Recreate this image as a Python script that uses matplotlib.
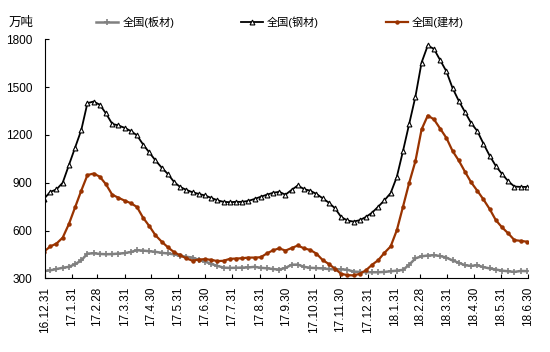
import pandas as pd
import matplotlib
matplotlib.use("Agg")
import matplotlib.pyplot as plt

plt.rcParams['font.family'] = ['Liberation Sans', 'Noto Sans CJK SC', 'DejaVu Sans']

# weekly observations, first one on 2016-12-30
start_date = '2016-12-30'
n_weeks = 79

plate = [345, 350, 358, 366, 372, 388, 412, 455, 457, 453,
         451, 452, 455, 458, 465, 476, 474, 470, 466, 460,
         456, 450, 441, 435, 430, 416, 405, 390, 378, 367,
         365, 366, 367, 368, 372, 366, 363, 358, 355, 365,
         385, 386, 372, 366, 364, 362, 358, 356, 356, 354,
         342, 340, 338, 338, 338, 340, 344, 348, 353, 385,
         425, 438, 443, 445, 440, 430, 412, 398, 382, 378,
         382, 370, 362, 355, 348, 344, 340, 346, 345]

steel = [800, 843, 858, 900, 1010, 1120, 1230, 1400, 1410, 1390,
         1335, 1270, 1260, 1245, 1225, 1198, 1140, 1090, 1040, 995,
         955, 905, 873, 855, 840, 830, 820, 805, 790, 780,
         778, 780, 780, 786, 798, 812, 825, 837, 843, 825,
         855, 883, 860, 850, 830, 803, 775, 740, 685, 663,
         656, 665, 685, 712, 750, 790, 835, 937, 1100, 1270,
         1440, 1655, 1762, 1740, 1670, 1600, 1495, 1415, 1345, 1275,
         1225, 1145, 1070, 1005, 955, 910, 876, 874, 874]

building = [468, 500, 518, 555, 640, 745, 850, 948, 958, 938,
            890, 825, 806, 788, 772, 748, 680, 628, 570, 530,
            495, 464, 444, 425, 410, 418, 420, 416, 408, 410,
            422, 424, 426, 430, 430, 432, 456, 476, 488, 474,
            490, 506, 488, 478, 455, 415, 390, 360, 328, 320,
            318, 328, 350, 385, 414, 460, 500, 602, 750, 900,
            1035, 1235, 1322, 1298, 1240, 1182, 1100, 1040, 970, 903,
            850, 795, 735, 665, 620, 582, 540, 535, 530]

tick_dates = ['2016-12-31', '2017-01-31', '2017-02-28', '2017-03-31', '2017-04-30',
              '2017-05-31', '2017-06-30', '2017-07-31', '2017-08-31', '2017-09-30',
              '2017-10-31', '2017-11-30', '2017-12-31', '2018-01-31', '2018-02-28',
              '2018-03-31', '2018-04-30', '2018-05-31', '2018-06-30']
tick_labels = ['16.12.31', '17.1.31', '17.2.28', '17.3.31', '17.4.30',
               '17.5.31', '17.6.30', '17.7.31', '17.8.31', '17.9.30',
               '17.10.31', '17.11.30', '17.12.31', '18.1.31', '18.2.28',
               '18.3.31', '18.4.30', '18.5.31', '18.6.30']

dates = pd.date_range(start_date, periods=n_weeks, freq='7D')

fig = plt.figure(figsize=(5.5, 3.52), dpi=100)
ax = fig.add_axes([0.0818, 0.2094, 0.8776, 0.6786])

ax.plot(dates, plate, color='#808080', lw=1.8, marker='+', ms=4, mew=1.2,
        label='全国(板材)')
ax.plot(dates, steel, color='black', lw=1.3, marker='^', ms=3.5, mew=0.8,
        mfc='white', label='全国(钢材)')
ax.plot(dates, building, color='#993300', lw=1.6, marker='o', ms=2.2,
        label='全国(建材)')

ax.set_xlim(pd.Timestamp('2016-12-31'), pd.Timestamp('2018-06-30'))
ax.set_ylim(300, 1800)
ax.set_yticks(range(300, 1801, 300))
ax.set_xticks(pd.to_datetime(tick_dates))
ax.set_xticklabels(tick_labels, rotation=90)
ax.tick_params(direction='in', labelsize=8.5, length=3)
ax.tick_params(axis='x', pad=6)
ax.tick_params(axis='y', pad=9)
ax.spines['top'].set_visible(False)
ax.spines['right'].set_visible(False)

fig.text(0.038, 0.935, '万吨', fontsize=9, ha='center', va='center')
fig.legend(loc='center left', bbox_to_anchor=(0.175, 0.937), ncol=3, frameon=False,
           fontsize=8, columnspacing=6.0, handlelength=2.0, handletextpad=0.35,
           borderpad=0, borderaxespad=0)

fig.savefig('out.png', dpi=100)
